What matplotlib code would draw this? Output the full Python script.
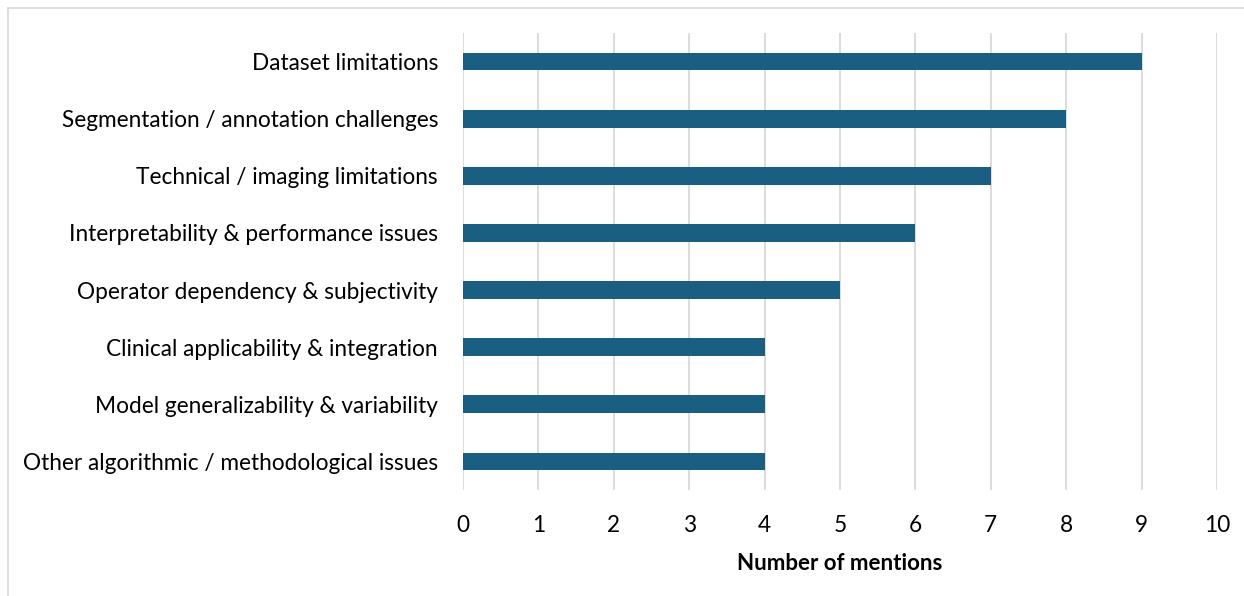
import matplotlib
matplotlib.use("Agg")
import matplotlib.pyplot as plt
from matplotlib.lines import Line2D

categories = [
    "Dataset limitations",
    "Segmentation / annotation challenges",
    "Technical / imaging limitations",
    "Interpretability & performance issues",
    "Operator dependency & subjectivity",
    "Clinical applicability & integration",
    "Model generalizability & variability",
    "Other algorithmic / methodological issues",
]
mentions = [9, 8, 7, 6, 5, 4, 4, 4]
x_ticks = list(range(0, 11))

plt.rcParams["font.family"] = ["Lato", "DejaVu Sans"]

fig = plt.figure(figsize=(12.44, 5.96), dpi=100)
W, H = 1244, 596
left, right, top, bottom = 463, 1217, 33, 490
ax = fig.add_axes([left / W, 1 - bottom / H, (right - left) / W, (bottom - top) / H])

ypos = list(range(len(categories)))
ax.barh(ypos, mentions, height=0.31, color="#1a5f82", zorder=3)

ax.set_xlim(0, 10)
ax.set_ylim(len(categories) - 0.5, -0.5)
ax.set_xticks(x_ticks)
ax.set_xticklabels([str(t) for t in x_ticks])
ax.set_yticks(ypos)
ax.set_yticklabels(categories)
ax.tick_params(axis="both", length=0, labelsize=16.3, colors="black")
ax.tick_params(axis="x", pad=18)
ax.tick_params(axis="y", pad=18)

ax.grid(axis="x", color="#d9d9d9", linewidth=1.3, zorder=0)
for s in ax.spines.values():
    s.set_visible(False)

ax.set_xlabel("Number of mentions", fontsize=16, fontweight="bold", labelpad=12)

# light frame around the chart area
fig.add_artist(Line2D([8 / W, 1], [1 - 8 / H, 1 - 8 / H], color="#d9d9d9", linewidth=1.2))
fig.add_artist(Line2D([8 / W, 8 / W], [0, 1 - 8 / H], color="#d9d9d9", linewidth=1.2))

fig.savefig("out.png", dpi=100, facecolor="white")
